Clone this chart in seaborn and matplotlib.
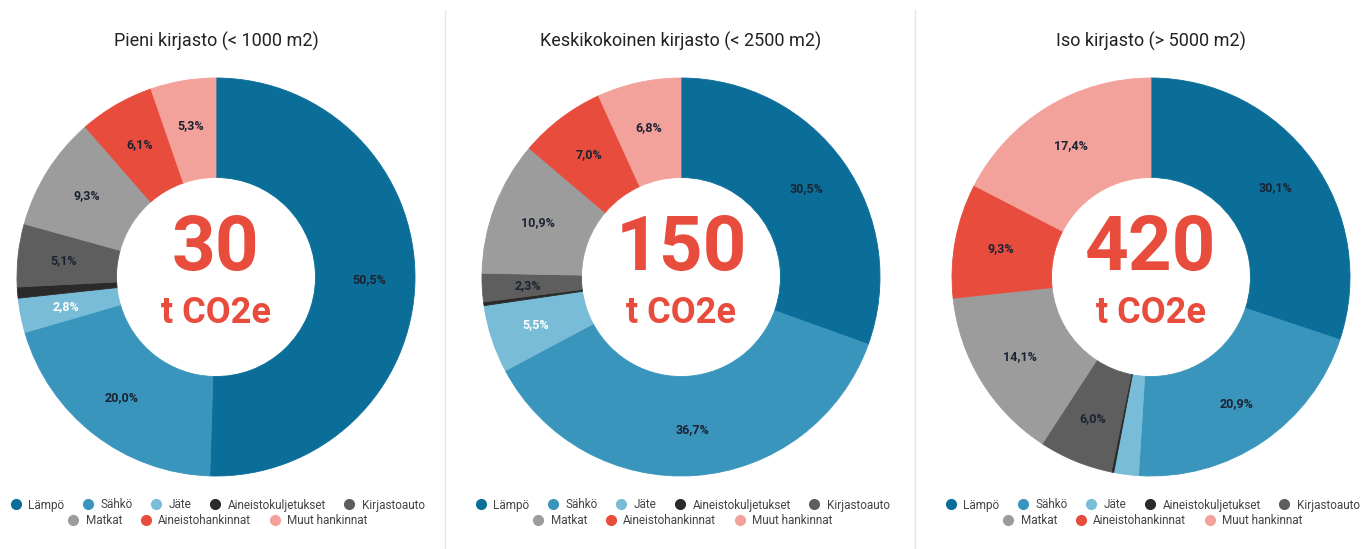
import numpy as np
import matplotlib
matplotlib.use("Agg")
import matplotlib.pyplot as plt
from matplotlib.lines import Line2D
import seaborn as sns

# -----------------------------------------------------------------------------
# Data
# -----------------------------------------------------------------------------
categories = ["Lämpö", "Sähkö", "Jäte", "Aineistokuljetukset", "Kirjastoauto",
              "Matkat", "Aineistohankinnat", "Muut hankinnat"]

titles = ["Pieni kirjasto (< 1000 m2)",
          "Keskikokoinen kirjasto (< 2500 m2)",
          "Iso kirjasto (> 5000 m2)"]

totals = ["30", "150", "420"]

small_lib = [50.5, 20.0, 2.8, 0.9, 5.1, 9.3, 6.1, 5.3]
medium_lib = [30.5, 36.7, 5.5, 0.3, 2.3, 10.9, 7.0, 6.8]
large_lib = [30.1, 20.9, 2.0, 0.2, 6.0, 14.1, 9.3, 17.4]

colors = ["#0b6e99", "#3a95bd", "#78bcd8", "#2a2a2a", "#5e5e5e",
          "#9c9c9c", "#e84c3d", "#f2a29a"]
red = "#e84c3d"

# -----------------------------------------------------------------------------
# Figure
# -----------------------------------------------------------------------------
sns.set_theme(style="white")
plt.rcParams['font.family'] = ['Roboto', 'DejaVu Sans']
palette = sns.color_palette(colors)

W, H = 1372, 549
fig = plt.figure(figsize=(W / 100, H / 100), dpi=100)
fig.patch.set_facecolor("white")

centers_x = [216, 681, 1151]
center_y = H - 277
R = 199

for cx, title, total, values in zip(centers_x, titles, totals,
                                    [small_lib, medium_lib, large_lib]):
    ax = fig.add_axes([(cx - R) / W, (center_y - R) / H, 2 * R / W, 2 * R / H])
    wedges, texts, autotexts = ax.pie(
        values, colors=palette, startangle=90, counterclock=False,
        radius=1.0, wedgeprops=dict(width=0.5, linewidth=0.6),
        autopct=lambda p: (f"{p:.1f}%".replace(".", ",") if p > 2.2 else ""),
        pctdistance=0.77,
        textprops=dict(fontsize=9, fontweight="bold", color="#1b2333"))
    for w in wedges:
        w.set_edgecolor(w.get_facecolor())
    # light blue slice carries a white label
    autotexts[2].set_color("white")
    ax.set_xlim(-1, 1)
    ax.set_ylim(-1, 1)
    ax.set_aspect("equal")

    ax.text(0, 0.14, total, ha="center", va="center", fontsize=55,
            fontweight="bold", color=red)
    ax.text(0, -0.18, "t CO2e", ha="center", va="center", fontsize=26,
            fontweight="bold", color=red)

    fig.text(cx / W, (H - 41) / H, title, ha="center", va="center",
             fontsize=13, color="#222222")

    # legend rows (centered)
    handles = [Line2D([0], [0], marker="o", linestyle="", markersize=7,
                      markerfacecolor=c, markeredgecolor=c) for c in colors]
    fig.legend(handles[:5], categories[:5], ncol=5, loc="center",
               bbox_to_anchor=(cx / W, (H - 505) / H), frameon=False,
               fontsize=8.5, handletextpad=0.3, columnspacing=1.25,
               handlelength=1.5, labelcolor="#444444")
    fig.legend(handles[5:], categories[5:], ncol=3, loc="center",
               bbox_to_anchor=(cx / W, (H - 521) / H), frameon=False,
               fontsize=8.5, handletextpad=0.3, columnspacing=1.25,
               handlelength=1.5, labelcolor="#444444")

# panel separators
for sx in [445, 915]:
    fig.add_artist(Line2D([sx / W, sx / W], [0, (H - 10) / H],
                          color="#e6e6e6", linewidth=1))

fig.savefig("out.png", dpi=100, facecolor="white")
